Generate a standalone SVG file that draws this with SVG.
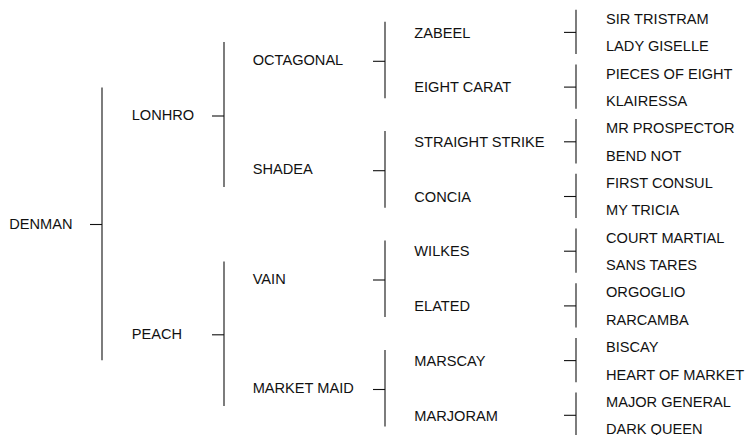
<svg xmlns="http://www.w3.org/2000/svg" width="749" height="435" viewBox="0 0 749 435">
<style>
text{font-family:"Liberation Sans",Arial,sans-serif;font-size:14.6px;fill:#111}
.c line{stroke:#111;stroke-width:1.1}
</style>
<rect width="749" height="435" fill="#fff"/>
<g class="c" id="connectors">
<line x1="90" y1="224.5" x2="102" y2="224.5"/>
<line x1="102" y1="87.4" x2="102" y2="360.2"/>
<line x1="212" y1="116" x2="224" y2="116"/>
<line x1="212" y1="334.8" x2="224" y2="334.8"/>
<line x1="224" y1="42" x2="224" y2="187"/>
<line x1="224" y1="261.5" x2="224" y2="406"/>
<line x1="373" y1="61.3" x2="385" y2="61.3"/>
<line x1="373" y1="170.7" x2="385" y2="170.7"/>
<line x1="373" y1="280" x2="385" y2="280"/>
<line x1="373" y1="389.5" x2="385" y2="389.5"/>
<line x1="385" y1="21.7" x2="385" y2="98.3"/>
<line x1="385" y1="131.1" x2="385" y2="207.7"/>
<line x1="385" y1="240.5" x2="385" y2="317.1"/>
<line x1="385" y1="349.9" x2="385" y2="426.5"/>
<line x1="564" y1="32.4" x2="576" y2="32.4"/>
<line x1="564" y1="87.1" x2="576" y2="87.1"/>
<line x1="564" y1="141.8" x2="576" y2="141.8"/>
<line x1="564" y1="196.5" x2="576" y2="196.5"/>
<line x1="564" y1="251.2" x2="576" y2="251.2"/>
<line x1="564" y1="305.9" x2="576" y2="305.9"/>
<line x1="564" y1="360.6" x2="576" y2="360.6"/>
<line x1="564" y1="415.3" x2="576" y2="415.3"/>
<line x1="576" y1="9.7" x2="576" y2="54"/>
<line x1="576" y1="64.4" x2="576" y2="108.7"/>
<line x1="576" y1="119.1" x2="576" y2="163.4"/>
<line x1="576" y1="173.8" x2="576" y2="218.1"/>
<line x1="576" y1="228.5" x2="576" y2="272.8"/>
<line x1="576" y1="283.2" x2="576" y2="327.5"/>
<line x1="576" y1="337.9" x2="576" y2="382.2"/>
<line x1="576" y1="392.6" x2="576" y2="436"/>
</g>
<g id="denman"><text x="9.3" y="229.1">DENMAN</text></g>
<g id="lonhro"><text x="131.7" y="119.7">LONHRO</text></g>
<g id="peach"><text x="131.7" y="338.5">PEACH</text></g>
<g id="octagonal"><text x="252.7" y="65">OCTAGONAL</text></g>
<g id="shadea"><text x="252.7" y="174.4">SHADEA</text></g>
<g id="vain"><text x="252.7" y="283.8">VAIN</text></g>
<g id="market-maid"><text x="252.7" y="393.2">MARKET MAID</text></g>
<g id="zabeel"><text x="414.3" y="37.6">ZABEEL</text></g>
<g id="eight-carat"><text x="414.3" y="92.3">EIGHT CARAT</text></g>
<g id="straight-strike"><text x="414.3" y="147">STRAIGHT STRIKE</text></g>
<g id="concia"><text x="414.3" y="201.7">CONCIA</text></g>
<g id="wilkes"><text x="414.3" y="256.4">WILKES</text></g>
<g id="elated"><text x="414.3" y="311.1">ELATED</text></g>
<g id="marscay"><text x="414.3" y="365.8">MARSCAY</text></g>
<g id="marjoram"><text x="414.3" y="420.5">MARJORAM</text></g>
<g id="sir-tristram"><text x="606" y="23.9">SIR TRISTRAM</text></g>
<g id="lady-giselle"><text x="606" y="51.3">LADY GISELLE</text></g>
<g id="pieces-of-eight"><text x="606" y="78.6">PIECES OF EIGHT</text></g>
<g id="klairessa"><text x="606" y="106">KLAIRESSA</text></g>
<g id="mr-prospector"><text x="606" y="133.3">MR PROSPECTOR</text></g>
<g id="bend-not"><text x="606" y="160.7">BEND NOT</text></g>
<g id="first-consul"><text x="606" y="188">FIRST CONSUL</text></g>
<g id="my-tricia"><text x="606" y="215.4">MY TRICIA</text></g>
<g id="court-martial"><text x="606" y="242.7">COURT MARTIAL</text></g>
<g id="sans-tares"><text x="606" y="270.1">SANS TARES</text></g>
<g id="orgoglio"><text x="606" y="297.4">ORGOGLIO</text></g>
<g id="rarcamba"><text x="606" y="324.8">RARCAMBA</text></g>
<g id="biscay"><text x="606" y="352.1">BISCAY</text></g>
<g id="heart-of-market"><text x="606" y="379.5">HEART OF MARKET</text></g>
<g id="major-general"><text x="606" y="406.8">MAJOR GENERAL</text></g>
<g id="dark-queen"><text x="606" y="434.2">DARK QUEEN</text></g>
</svg>
